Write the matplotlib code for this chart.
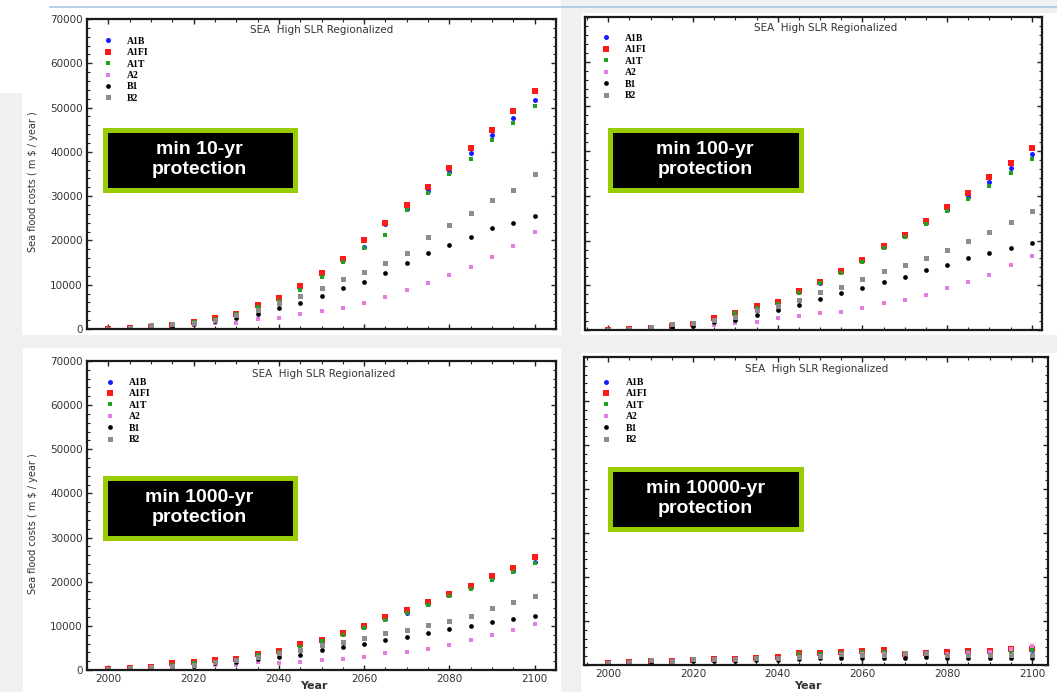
import numpy as np
import matplotlib
matplotlib.use("Agg")
import matplotlib.pyplot as plt
from matplotlib.patches import Rectangle
from matplotlib.lines import Line2D
from matplotlib.ticker import MultipleLocator

W, H = 1057, 692

years = list(range(2000, 2101, 5))

# min 10-yr protection
a1b_10 = [100, 200, 500, 900, 1700, 2400, 3700, 5100, 6600, 9400, 12400, 15500, 18600, 23800, 27200, 31200, 35500, 39700, 43800, 47700, 51800]
a1fi_10 = [100, 200, 500, 900, 1600, 2500, 3500, 5400, 6900, 9700, 12700, 15700, 20200, 24000, 28100, 32100, 36300, 40800, 44900, 49200, 53800]
a1t_10 = [100, 200, 500, 800, 1500, 2200, 3300, 4900, 6300, 8800, 11800, 15200, 18200, 21200, 26900, 30600, 35100, 38500, 42700, 46500, 50300]
a2_10 = [50, 100, 300, 500, 800, 1300, 1400, 2200, 2400, 3300, 4100, 4700, 5900, 7300, 8800, 10300, 12200, 14100, 16300, 18800, 21800]
b1_10 = [80, 150, 400, 600, 1100, 1700, 2400, 3500, 4700, 5900, 7400, 9200, 10700, 12600, 14800, 17100, 19000, 20800, 22700, 24000, 25600]
b2_10 = [100, 250, 800, 1100, 1400, 2000, 3100, 4300, 5800, 7400, 9300, 11200, 12900, 14800, 17100, 20800, 23500, 26100, 29100, 31500, 35000]

# min 100-yr protection
a1b_100 = [100, 300, 500, 900, 1300, 2400, 4000, 5100, 6100, 8500, 10600, 12900, 15400, 18500, 21000, 24000, 26900, 29800, 33200, 36200, 39300]
a1fi_100 = [100, 300, 500, 900, 1300, 2600, 3800, 5400, 6300, 8700, 10800, 13100, 15700, 18700, 21300, 24300, 27600, 30600, 34300, 37300, 40800]
a1t_100 = [100, 300, 500, 800, 1200, 2300, 3700, 4900, 5900, 8300, 10400, 12700, 15200, 18300, 20800, 23700, 26700, 29300, 32200, 35200, 38200]
a2_100 = [50, 100, 200, 400, 600, 1100, 1500, 1900, 2600, 3100, 3700, 4100, 4900, 6000, 6700, 7800, 9300, 10800, 12300, 14600, 16600]
b1_100 = [80, 200, 400, 700, 1000, 1800, 2200, 3400, 4500, 5600, 6900, 8200, 9300, 10800, 11900, 13400, 14600, 16000, 17200, 18300, 19400]
b2_100 = [100, 300, 600, 1300, 1600, 2300, 3000, 4500, 5400, 6700, 8600, 9700, 11300, 13100, 14600, 16000, 17900, 19800, 22000, 24100, 26600]

# min 1000-yr protection
a1b_1000 = [200, 400, 700, 1300, 1700, 2000, 2400, 3400, 4100, 5600, 6700, 8100, 9700, 11600, 13000, 14900, 16900, 18700, 20800, 22500, 24500]
a1fi_1000 = [200, 400, 700, 1500, 1900, 2200, 2600, 3600, 4300, 5900, 6900, 8400, 10000, 11900, 13700, 15500, 17200, 19000, 21300, 23200, 25600]
a1t_1000 = [200, 400, 600, 1200, 1600, 1900, 2300, 3300, 4000, 5300, 6500, 7900, 9500, 11300, 12900, 14800, 16700, 18400, 20400, 22200, 24200]
a2_1000 = [100, 200, 300, 500, 700, 1100, 1100, 1700, 1500, 1700, 2300, 2600, 2900, 3800, 4000, 4800, 5700, 6800, 7900, 9000, 10400]
b1_1000 = [150, 300, 500, 700, 1000, 1500, 1700, 2400, 2900, 3500, 4500, 5300, 6000, 6800, 7500, 8300, 9400, 10000, 10800, 11600, 12200]
b2_1000 = [200, 400, 700, 900, 1200, 1900, 2300, 3000, 3800, 4500, 5700, 6400, 7300, 8300, 9000, 10200, 11200, 12200, 14000, 15300, 16800]

# min 10000-yr protection
a1b_10000 = [400, 600, 900, 900, 1200, 1300, 1500, 1600, 1800, 2500, 2500, 2800, 3000, 3100, 2500, 2600, 2700, 3000, 3000, 3300, 3400]
a1fi_10000 = [400, 600, 900, 900, 1200, 1300, 1400, 1700, 1900, 2700, 2700, 3000, 3200, 3300, 2600, 2700, 2900, 3200, 3200, 3600, 3600]
a1t_10000 = [400, 600, 900, 800, 1100, 1200, 1300, 1500, 1700, 2400, 2400, 2700, 2900, 2900, 2400, 2600, 2600, 2900, 2900, 3200, 3300]
a2_10000 = [300, 500, 700, 700, 1000, 1100, 1200, 1300, 1500, 1900, 2100, 2300, 2500, 2400, 1900, 2200, 2500, 2800, 3000, 3600, 4300]
b1_10000 = [300, 500, 700, 600, 900, 900, 1000, 1100, 1200, 1300, 1600, 1700, 1500, 1500, 1600, 1800, 1700, 1500, 1500, 1500, 1500]
b2_10000 = [500, 700, 1100, 1000, 1300, 1300, 1300, 1500, 1600, 1800, 2000, 2400, 2300, 2200, 2700, 2800, 2300, 2300, 2200, 2300, 2300]

scenarios = ["A1B", "A1FI", "A1T", "A2", "B1", "B2"]
colors = ["#1a1aff", "#ff1a1a", "#22a022", "#e27ee2", "#000000", "#8c8c8c"]
markers = ["o", "s", "s", "s", "o", "s"]
msizes = [3.6, 4.4, 2.6, 3.0, 3.4, 3.6]

panels = [
    # label, series, axes box (px), xlim, legend anchor, title pos, text box (px)
    ("min 10-yr\nprotection", [a1b_10, a1fi_10, a1t_10, a2_10, b1_10, b2_10],
     (87, 19, 556, 329), (1995, 2105), (0.036, 0.943), (0.50, 0.965), (102, 127, 297, 192)),
    ("min 100-yr\nprotection", [a1b_100, a1fi_100, a1t_100, a2_100, b1_100, b2_100],
     (585, 17, 1042, 330), (1994.5, 2102.4), (0.037, 0.946), (0.527, 0.965), (607, 127, 803, 192)),
    ("min 1000-yr\nprotection", [a1b_1000, a1fi_1000, a1t_1000, a2_1000, b1_1000, b2_1000],
     (87, 361, 556, 670), (1995, 2105), (0.04, 0.945), (0.505, 0.958), (102, 475, 297, 540)),
    ("min 10000-yr\nprotection", [a1b_10000, a1fi_10000, a1t_10000, a2_10000, b1_10000, b2_10000],
     (584, 357, 1048, 665), (1994.3, 2103.8), (0.039, 0.932), (0.502, 0.961), (607, 466, 803, 531)),
]

fig = plt.figure(figsize=(W / 100, H / 100), dpi=100, facecolor="#f0f0f0")


def px_rect(x0, y0, x1, y1, **kw):
    return Rectangle((x0 / W, 1 - y1 / H), (x1 - x0) / W, (y1 - y0) / H,
                     transform=fig.transFigure, **kw)


# white slide areas behind the four screenshots
for box in [(22, 0, 561, 335), (0, 0, 22, 93), (581, 13, 1057, 335),
            (23, 348, 561, 692), (581, 353, 1057, 692)]:
    fig.patches.append(px_rect(*box, facecolor="white", edgecolor="none", zorder=-5))
fig.add_artist(Line2D([50 / W, 1], [1 - 7 / H, 1 - 7 / H], transform=fig.transFigure,
                      color="#a9c6e8", lw=1.2, zorder=-4))

for i, (label, series, box, xlim, leg_xy, title_xy, tbox) in enumerate(panels):
    x0, y0, x1, y1 = box
    ax = fig.add_axes([x0 / W, 1 - y1 / H, (x1 - x0) / W, (y1 - y0) / H])
    for name, vals, c, m, ms in zip(scenarios, series, colors, markers, msizes):
        ax.plot(years, vals, linestyle="none", marker=m, color=c, ms=ms,
                markeredgewidth=0, label=name)
    ax.set_xlim(*xlim)
    ax.set_ylim(0, 70000)
    ax.xaxis.set_major_locator(MultipleLocator(20))
    ax.xaxis.set_minor_locator(MultipleLocator(5))
    ax.yaxis.set_major_locator(MultipleLocator(10000))
    ax.yaxis.set_minor_locator(MultipleLocator(2000))
    ax.tick_params(which="both", direction="in", top=True, right=True, color="#222222",
                   labelsize=7.5, labelcolor="#333333", pad=3)
    ax.tick_params(which="major", length=3.5, width=1)
    ax.tick_params(which="minor", length=2, width=0.8)
    ax.tick_params(axis="x", labelbottom=(i >= 2), pad=3)
    ax.tick_params(axis="y", labelleft=(i % 2 == 0))
    for sp in ax.spines.values():
        sp.set_linewidth(1.6)
        sp.set_color("#1a1a1a")

    ax.text(title_xy[0], title_xy[1], "SEA  High SLR Regionalized", transform=ax.transAxes,
            ha="center", va="center", fontsize=7.5, color="#333333")
    ax.legend(loc="upper left", bbox_to_anchor=leg_xy, frameon=False, handlelength=0.8,
              handletextpad=1.6, labelspacing=0.25, borderpad=0, borderaxespad=0,
              prop={"family": "Liberation Serif", "weight": "bold", "size": 7})

    bx0, by0, bx1, by1 = tbox
    fig.patches.append(px_rect(bx0 + 2.5, by0 + 2.5, bx1 - 2.5, by1 - 2.5,
                               facecolor="black", edgecolor="#99cc00", lw=3.6, zorder=5))
    fig.text((bx0 + bx1) / 2 / W, 1 - (by0 + by1) / 2 / H, label, ha="center", va="center",
             color="white", fontsize=14, fontweight="bold", family="Liberation Sans",
             linespacing=1.3, zorder=6)

    if i % 2 == 0:
        fig.text(33 / W, 1 - ((y0 + y1) / 2 + 8) / H, "Sea flood costs ( m \\$ / year )",
                 rotation=90, ha="center", va="center", fontsize=7, color="#333333")
    if i >= 2:
        fig.text(((x0 + x1) / 2 - 8) / W, 1 - 686 / H, "Year", ha="center", va="center",
                 fontsize=8, fontweight="bold", color="#333333")

fig.savefig("out.png", dpi=100, facecolor=fig.get_facecolor())
